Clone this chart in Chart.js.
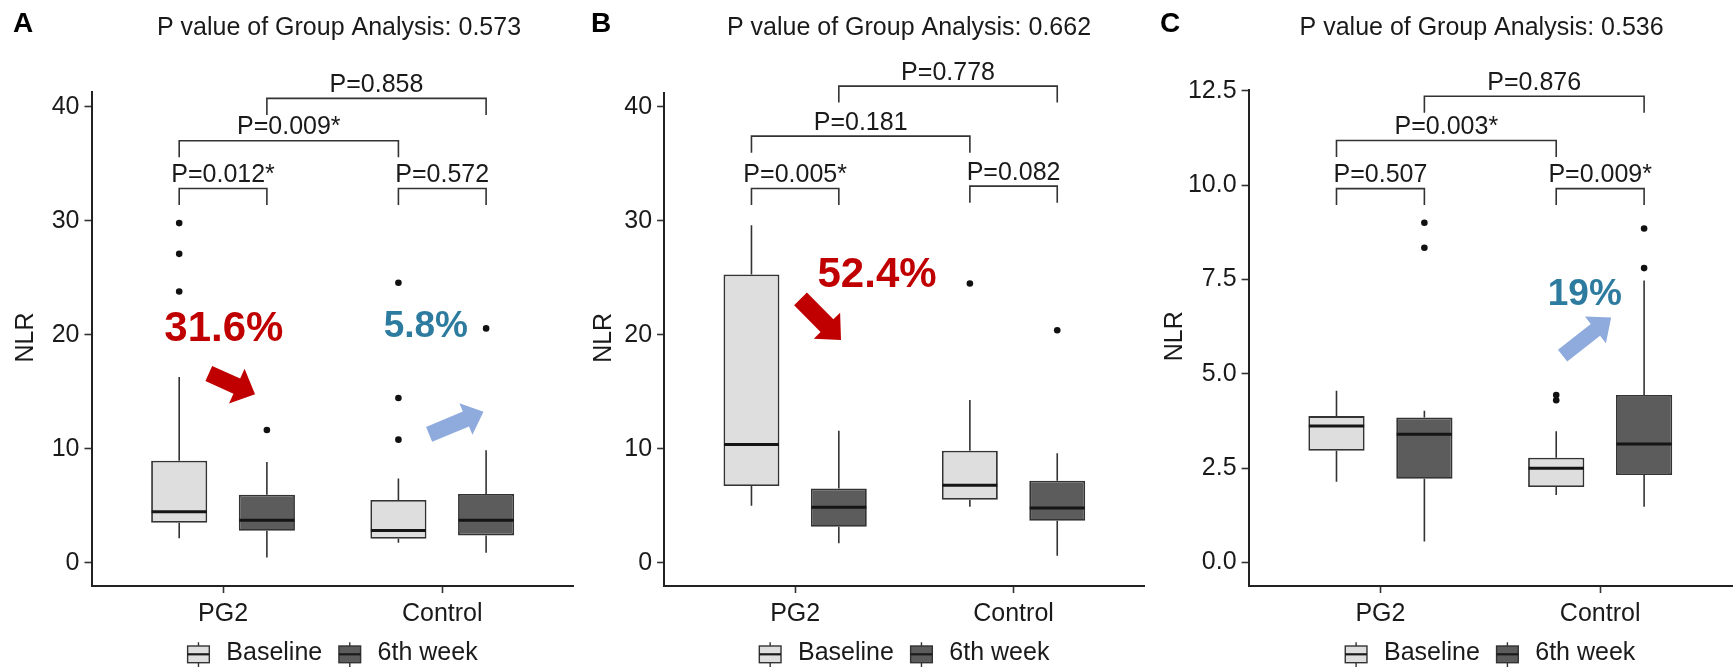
<!DOCTYPE html>
<html>
<head>
<meta charset="utf-8">
<script src="https://cdn.jsdelivr.net/npm/chart.js@4.4.1/dist/chart.umd.min.js"></script>
<style>
html,body{margin:0;padding:0;background:#fff;width:1736px;height:667px;overflow:hidden;}
.panel{position:absolute;top:0;height:667px;}
canvas{display:block;}
</style>
</head>
<body>
<div class="panel" style="left:0px;width:580px"><canvas id="cA" width="580" height="667"></canvas></div>
<div class="panel" style="left:580px;width:580px"><canvas id="cB" width="580" height="667"></canvas></div>
<div class="panel" style="left:1160px;width:576px"><canvas id="cC" width="576" height="667"></canvas></div>
<script>
// ---------------- DATA ----------------
const categories = ['PG2', 'Control'];
const seriesNames = ['Baseline', '6th week'];
// five-number summaries per category: [min, q1, median, q3, max]
const aBaseline = [[2.14, 3.5, 4.47, 8.95, 16.3], [1.75, 2.1, 2.84, 5.5, 7.4]];
const aWeek6    = [[0.47, 2.81, 3.72, 5.97, 8.83], [0.88, 2.4, 3.72, 6.03, 9.88]];
const aBaselineOut = [[23.8, 27.1, 29.8], [10.8, 14.45, 24.56]];
const aWeek6Out    = [[11.64], [20.56]];

const bBaseline = [[5.0, 6.73, 10.38, 25.3, 29.6], [4.91, 5.53, 6.79, 9.83, 14.27]];
const bWeek6    = [[1.7, 3.16, 4.86, 6.52, 11.58], [0.61, 3.68, 4.8, 7.19, 9.6]];
const bBaselineOut = [[], [24.5]];
const bWeek6Out    = [[], [20.4]];

const cBaseline = [[2.14, 2.96, 3.62, 3.88, 4.55], [1.79, 2.0, 2.5, 2.78, 3.48]];
const cWeek6    = [[0.56, 2.22, 3.4, 3.84, 4.02], [1.48, 2.32, 3.14, 4.44, 7.47]];
const cBaselineOut = [[], [4.30, 4.44]];
const cWeek6Out    = [[8.34, 9.0], [7.8, 8.85]];

const yTicksAB = [0, 10, 20, 30, 40];
const yTickLabelsAB = ['0', '10', '20', '30', '40'];
const yTicksC = [0, 2.5, 5, 7.5, 10, 12.5];
const yTickLabelsC = ['0.0', '2.5', '5.0', '7.5', '10.0', '12.5'];

const groupP = ['0.573', '0.662', '0.536'];
// order: PG2 baseline vs 6th, Control baseline vs 6th, baselines PG2 vs Control, 6th week PG2 vs Control
const aPairP = ['P=0.012*', 'P=0.572', 'P=0.009*', 'P=0.858'];
const bPairP = ['P=0.005*', 'P=0.082', 'P=0.181', 'P=0.778'];
const cPairP = ['P=0.507', 'P=0.009*', 'P=0.003*', 'P=0.876'];
const changePct = ['31.6%', '5.8%', '52.4%', '19%'];

// ---------------- STYLE ----------------
const FONT = "'Liberation Sans', Arial, Helvetica, sans-serif";
const TXT = 25;
const fills = ['#DEDEDE', '#5C5C5C'];
const dodge = [-0.2, 0.2];
const RED = '#C00000', BLUE_T = '#2E7BA0', BLUE_A = '#8FAADC';
Chart.defaults.font.family = FONT;
Chart.defaults.font.size = TXT;
Chart.defaults.color = '#1a1a1a';

const bracketPairs = [[[0,0],[0,1]], [[1,0],[1,1]], [[0,0],[1,0]], [[0,1],[1,1]]];

const panels = [
  { id:'cA', letter:'A', base:aBaseline, week:aWeek6, baseOut:aBaselineOut, weekOut:aWeek6Out,
    yMin:-2.04, yMax:41.3, padT:92, ticks:yTicksAB, tickLabels:yTickLabelsAB, p:groupP[0],
    pairs:aPairP, bracketY:[32.84, 32.84, 37.02, 40.74],
    axisW:91.5, padR:6.2, titleX:339, letterX:13, nlrX:33,
    notes:[{t:changePct[0], c:RED, s:42, x:1.004, y:19.45}, {t:changePct[1], c:BLUE_T, s:37, x:1.925, y:19.82}],
    arrows:[{f:[0.935,16.6], to:[1.146,14.78], c:RED, w:16.5, hw:38, hl:20},
            {f:[1.94,11.27], to:[2.188,13.25], c:BLUE_A, w:16, hw:34, hl:19}] },
  { id:'cB', letter:'B', base:bBaseline, week:bWeek6, baseOut:bBaselineOut, weekOut:bWeek6Out,
    yMin:-2.04, yMax:41.24, padT:92.7, ticks:yTicksAB, tickLabels:yTickLabelsAB, p:groupP[1],
    pairs:bPairP, bracketY:[32.84, 33.04, 37.43, 41.82],
    axisW:84.1, padR:15.4, titleX:329, letterX:11, nlrX:31.4,
    notes:[{t:changePct[2], c:RED, s:42, x:1.375, y:24.16}],
    arrows:[{f:[1.0245,23.15], to:[1.21,19.55], c:RED, w:18, hw:37, hl:20}] },
  { id:'cC', letter:'C', base:cBaseline, week:cWeek6, baseOut:cBaselineOut, weekOut:cWeek6Out,
    yMin:-0.62, yMax:12.53, padT:89.5, ticks:yTicksC, tickLabels:yTickLabelsC, p:groupP[2],
    pairs:cPairP, bracketY:[9.905, 9.905, 11.18, 12.35],
    axisW:88.6, padR:4, titleX:321.6, letterX:0, nlrX:22,
    notes:[{t:changePct[3], c:BLUE_T, s:37, x:1.93, y:6.82}],
    arrows:[{f:[1.829,5.48], to:[2.05,6.49], c:BLUE_A, w:15, hw:34, hl:20}] }
];

function drawArrow(ctx, x0, y0, x1, y1, w, hw, hl, color) {
  const dx = x1 - x0, dy = y1 - y0, L = Math.hypot(dx, dy);
  const ux = dx / L, uy = dy / L, nx = -uy, ny = ux;
  const bx = x1 - ux * hl, by = y1 - uy * hl;
  ctx.beginPath();
  ctx.moveTo(x0 + nx * w / 2, y0 + ny * w / 2);
  ctx.lineTo(bx + nx * w / 2, by + ny * w / 2);
  ctx.lineTo(bx + nx * hw / 2, by + ny * hw / 2);
  ctx.lineTo(x1, y1);
  ctx.lineTo(bx - nx * hw / 2, by - ny * hw / 2);
  ctx.lineTo(bx - nx * w / 2, by - ny * w / 2);
  ctx.lineTo(x0 - nx * w / 2, y0 - ny * w / 2);
  ctx.closePath();
  ctx.fillStyle = color;
  ctx.fill();
}

function drawKey(ctx, x, fill) {
  const w = 21.7, top = 646, bot = 662.7, mid = 654.3;
  ctx.strokeStyle = '#333'; ctx.lineWidth = 1.4;
  ctx.beginPath();
  ctx.moveTo(x + w / 2, 642.3); ctx.lineTo(x + w / 2, top);
  ctx.moveTo(x + w / 2, bot); ctx.lineTo(x + w / 2, 667);
  ctx.stroke();
  ctx.fillStyle = fill;
  ctx.fillRect(x, top, w, bot - top);
  ctx.strokeRect(x, top, w, bot - top);
  ctx.lineWidth = 2.2; ctx.strokeStyle = '#1a1a1a';
  ctx.beginPath(); ctx.moveTo(x, mid); ctx.lineTo(x + w, mid); ctx.stroke();
}

function makeExtras(p) {
  return {
    id: 'boxExtras' + p.letter,
    beforeDatasetsDraw(chart) {
      const xs = chart.scales.x, ys = chart.scales.y, ctx = chart.ctx;
      ctx.save();
      ctx.strokeStyle = '#333'; ctx.lineWidth = 1.6;
      [p.base, p.week].forEach((ser, si) => ser.forEach((st, ci) => {
        const px = xs.getPixelForValue(ci + 1 + dodge[si]);
        ctx.beginPath();
        ctx.moveTo(px, ys.getPixelForValue(st[4])); ctx.lineTo(px, ys.getPixelForValue(st[3]));
        ctx.moveTo(px, ys.getPixelForValue(st[1])); ctx.lineTo(px, ys.getPixelForValue(st[0]));
        ctx.stroke();
      }));
      ctx.restore();
    },
    afterDatasetsDraw(chart) {
      const ys = chart.scales.y, ctx = chart.ctx;
      ctx.save();
      ctx.strokeStyle = '#151515'; ctx.lineWidth = 3;
      [p.base, p.week].forEach((ser, si) => {
        const meta = chart.getDatasetMeta(si);
        ser.forEach((st, ci) => {
          const el = meta.data[ci];
          const py = ys.getPixelForValue(st[2]);
          ctx.beginPath();
          ctx.moveTo(el.x - el.width / 2 + 0.5, py); ctx.lineTo(el.x + el.width / 2 - 0.5, py);
          ctx.stroke();
        });
      });
      ctx.restore();
    },
    afterDraw(chart) {
      const xs = chart.scales.x, ys = chart.scales.y, ctx = chart.ctx, ca = chart.chartArea;
      ctx.save();
      // panel letter
      ctx.fillStyle = '#000';
      ctx.font = 'bold 28px ' + FONT;
      ctx.textAlign = 'left'; ctx.textBaseline = 'alphabetic';
      ctx.fillText(p.letter, p.letterX, 32);
      // title
      ctx.fillStyle = '#1a1a1a';
      ctx.font = TXT + 'px ' + FONT;
      ctx.textAlign = 'center';
      ctx.fillText('P value of Group Analysis: ' + p.p, p.titleX, 35);
      // y title
      ctx.save();
      ctx.translate(p.nlrX, (ca.top + ca.bottom) / 2 - 1.5);
      ctx.rotate(-Math.PI / 2);
      ctx.fillText('NLR', 0, 0);
      ctx.restore();
      // brackets
      ctx.strokeStyle = '#333'; ctx.lineWidth = 1.6;
      bracketPairs.forEach((pr, k) => {
        const xa = xs.getPixelForValue(pr[0][0] + 1 + dodge[pr[0][1]]);
        const xb = xs.getPixelForValue(pr[1][0] + 1 + dodge[pr[1][1]]);
        const yy = ys.getPixelForValue(p.bracketY[k]);
        ctx.beginPath();
        ctx.moveTo(xa, yy + 16.5); ctx.lineTo(xa, yy); ctx.lineTo(xb, yy); ctx.lineTo(xb, yy + 16.5);
        ctx.stroke();
        ctx.fillStyle = '#1a1a1a';
        ctx.fillText(p.pairs[k], (xa + xb) / 2, yy - 6.5);
      });
      // arrows
      p.arrows.forEach(a => drawArrow(ctx, xs.getPixelForValue(a.f[0]), ys.getPixelForValue(a.f[1]),
        xs.getPixelForValue(a.to[0]), ys.getPixelForValue(a.to[1]), a.w, a.hw, a.hl, a.c));
      // change labels
      p.notes.forEach(n => {
        ctx.fillStyle = n.c;
        ctx.font = 'bold ' + n.s + 'px ' + FONT;
        ctx.fillText(n.t, xs.getPixelForValue(n.x), ys.getPixelForValue(n.y));
      });
      // legend
      ctx.font = TXT + 'px ' + FONT;
      const kw = 21.7, g1 = 17, g2 = 16.7;
      const t1 = ctx.measureText(seriesNames[0]).width, t2 = ctx.measureText(seriesNames[1]).width;
      const total = kw + g1 + t1 + g2 + kw + g1 + t2;
      let x0 = (ca.left + ca.right) / 2 - total / 2;
      drawKey(ctx, x0, fills[0]);
      ctx.fillStyle = '#1a1a1a'; ctx.textAlign = 'left';
      ctx.fillText(seriesNames[0], x0 + kw + g1, 660);
      const x1 = x0 + kw + g1 + t1 + g2;
      drawKey(ctx, x1, fills[1]);
      ctx.fillStyle = '#1a1a1a';
      ctx.fillText(seriesNames[1], x1 + kw + g1, 660);
      ctx.restore();
    }
  };
}

function buildChart(p) {
  const datasets = [p.base, p.week].map((ser, si) => ({
    type: 'bar',
    label: seriesNames[si],
    data: ser.map((st, ci) => ({ x: ci + 1 + dodge[si], y: [st[1], st[3]] })),
    backgroundColor: fills[si],
    borderColor: '#333333',
    borderWidth: 1.8,
    borderSkipped: false,
    grouped: false,
    categoryPercentage: 1,
    barPercentage: 0.64,
    order: 2
  }));
  const outPts = [];
  [p.baseOut, p.weekOut].forEach((ser, si) => ser.forEach((vals, ci) =>
    vals.forEach(v => outPts.push({ x: ci + 1 + dodge[si], y: v }))));
  datasets.push({ type: 'scatter', label: 'outliers', data: outPts, pointRadius: 3.3,
    pointBackgroundColor: '#111', pointBorderColor: '#111', pointBorderWidth: 0, order: 1 });

  const axisGrid = { display: true, offset: false, drawOnChartArea: false, drawTicks: true, tickLength: 7,
    tickWidth: 1.6, tickColor: '#333' };
  const axisBorder = { display: true, color: '#222', width: 2 };

  new Chart(document.getElementById(p.id), {
    type: 'bar',
    data: { datasets },
    options: {
      responsive: false, animation: false, devicePixelRatio: 1,
      layout: { padding: { left: 0, right: p.padR, top: p.padT, bottom: 41 } },
      plugins: { legend: { display: false }, tooltip: { enabled: false }, title: { display: false } },
      scales: {
        x: { type: 'linear', min: 0.4, max: 2.6, offset: false,
          afterBuildTicks: s => { s.ticks = categories.map((c, i) => ({ value: i + 1 })); },
          afterFit: s => { s.height = 40; },
          ticks: { autoSkip: false, maxRotation: 0, padding: 6, color: '#1a1a1a', font: { size: TXT },
            callback: (v, i) => categories[i] },
          grid: axisGrid, border: axisBorder },
        y: { type: 'linear', min: p.yMin, max: p.yMax, beginAtZero: false,
          afterBuildTicks: s => { s.ticks = p.ticks.map(v => ({ value: v })); },
          afterFit: s => { s.width = p.axisW; },
          ticks: { autoSkip: false, padding: 5, color: '#1a1a1a', font: { size: TXT },
            callback: (v, i) => p.tickLabels[i] },
          grid: axisGrid, border: axisBorder }
      }
    },
    plugins: [makeExtras(p)]
  });
}

panels.forEach(buildChart);
</script>
</body>
</html>
